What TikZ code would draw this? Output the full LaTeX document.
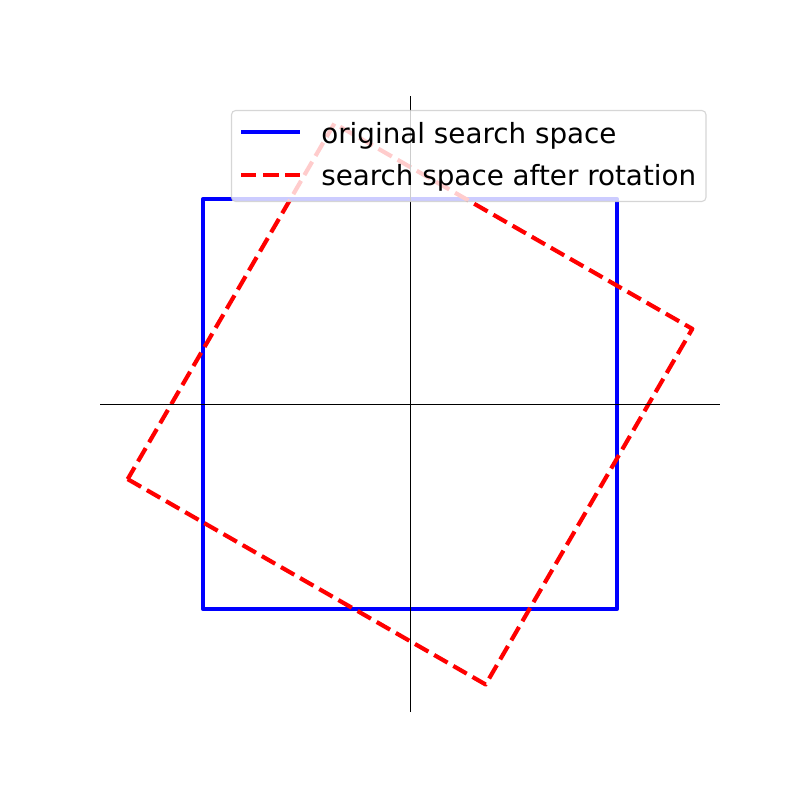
\documentclass[tikz,border=0pt]{standalone}
\usepackage{fontspec}
\setmainfont{DejaVu Sans}
\tikzset{
  origbox/.style={draw=blue, line width=3pt, line join=round},
  rotbox/.style={draw=red, line width=3pt, dash pattern=on 11.1pt off 4.8pt, line join=round},
  axisline/.style={draw=black, line width=0.5pt},
  legendbox/.style={fill=white, fill opacity=0.8, draw=black!20, draw opacity=0.8, line width=0.8pt, rounded corners=3pt},
  legendtext/.style={anchor=base west, inner sep=0pt, font=\fontsize{20}{24}\selectfont}
}
\begin{document}
\begin{tikzpicture}[x=0.72pt, y=-0.72pt]
	\useasboundingbox (0,0) rectangle (800,800);
	\begin{scope}[shift={(295.2pt,-290.88pt)}, x=148.8pt, y=147.84pt]
		% Kulmat
		\coordinate (sw) at (-1,-1);
		\coordinate (se) at (1,-1);
		\coordinate (ne) at (1,1);
		\coordinate (nw) at (-1,1);
		\coordinate (rl) at (-1.366,-0.366);	% vasen
		\coordinate (rb) at (0.366,-1.366);	% ala
		\coordinate (rr) at (1.366,0.366);	% oikea
		\coordinate (rt) at (-0.366,1.366);	% yla
		% Neliot
		\draw[origbox] (sw) -- (se) -- (ne) -- (nw) -- cycle;
		\draw[rotbox] (rl) -- (rb) -- (rr) -- (rt) -- cycle;
		% Akselit
		\coordinate (xl) at (-1.5,0);
		\coordinate (xr) at (1.5,0);
		\coordinate (yb) at (0,-1.5);
		\coordinate (yt) at (0,1.5);
		\draw[axisline] (xl) -- (xr);
		\draw[axisline] (yb) -- (yt);
	\end{scope}
	% Selite
	\draw[legendbox] (231.5,110.5) rectangle (706,201.5);
	\coordinate (ol1) at (241,132);
	\coordinate (ol2) at (300,132);
	\coordinate (rl1) at (241,175);
	\coordinate (rl2) at (300,175);
	\draw[origbox] (ol1) -- (ol2);
	\draw[rotbox] (rl1) -- (rl2);
	\node (origtext) [legendtext] at (321,143) {original search space};
	\node (rottext) [legendtext] at (321,185) {search space after rotation};
\end{tikzpicture}
\end{document}
